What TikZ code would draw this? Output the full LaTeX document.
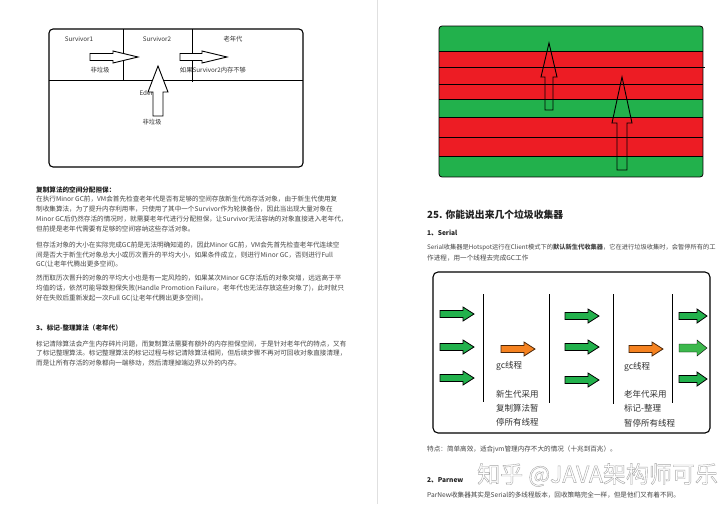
\documentclass[tikz,border=0pt]{standalone}
\usepackage{fontspec}
\setmainfont{Noto Sans CJK SC}
\definecolor{pgreen}{HTML}{22B14C}
\definecolor{pred}{HTML}{ED1C24}
\definecolor{porange}{HTML}{F58220}
\definecolor{lgreen}{HTML}{3CB84C}
\definecolor{bodytxt}{HTML}{454545}
\definecolor{headtxt}{HTML}{222222}
% right-pointing block arrow: style, x tail, y, x tip, shaft half, head half, head length
\newcommand{\rarrow}[7]{\draw[#1] (#2,#3-#5) -- (#4-#7,#3-#5) -- (#4-#7,#3-#6) -- (#4,#3) -- (#4-#7,#3+#6) -- (#4-#7,#3+#5) -- (#2,#3+#5) -- cycle;}
% up-pointing block arrow: style, x, y bottom, y tip, shaft half, head half, head length
\newcommand{\uarrow}[7]{\draw[#1] (#2-#5,#3) -- (#2-#5,#4+#7) -- (#2-#6,#4+#7) -- (#2,#4) -- (#2+#6,#4+#7) -- (#2+#5,#4+#7) -- (#2+#5,#3) -- cycle;}
\tikzset{
  txt/.style={anchor=west, inner sep=0pt, text=bodytxt, font=\fontsize{6.6}{7}\selectfont},
  stxt/.style={anchor=west, inner sep=0pt, text=bodytxt, font=\fontsize{6.25}{7}\selectfont},
  btxt/.style={anchor=west, inner sep=0pt, text=headtxt, font=\fontsize{6.6}{7}\selectfont\bfseries},
  lbl/.style={inner sep=0pt, text=black!80, font=\fontsize{6.3}{7}\selectfont},
  dlbl/.style={anchor=west, inner sep=0pt, text=black!80, font=\fontsize{8.5}{9}\selectfont},
  frame/.style={draw=black, line width=1.1pt, rounded corners=4pt},
  divline/.style={draw=black, line width=1pt},
  blockw/.style={draw=black, line width=0.9pt, fill=white},
  blocko/.style={draw=black, line width=0.9pt},
  garrow/.style={draw=black, line width=0.8pt, fill=pgreen},
  oarrow/.style={draw=black!70!porange, line width=0.8pt, fill=porange},
  larrow/.style={fill=lgreen},
  band/.style={draw=black, line width=0.8pt}
}
\begin{document}
\begin{tikzpicture}[x=1pt,y=-1pt]
\useasboundingbox (0,0) rectangle (720,504);
\fill[white] (0,0) rectangle (720,504);
\draw[black!12, line width=0.8pt] (377,0) -- (377,504);

% ---------------- left diagram ----------------
\draw[frame] (49,29) rectangle (303,167);
\draw[divline] (49,80) -- (303,80);
\draw[divline] (123,29) -- (123,80);
\draw[divline] (192,29) -- (192,82);
\node[lbl] (s1) at (79,39) {Survivor1};
\node[lbl] (s2) at (157,39) {Survivor2};
\node[lbl] (old) at (233,39) {老年代};
\node[lbl] (ng1) at (100,70) {非垃圾};
\node[lbl] (ifs) at (213,70) {如果Survivor2内存不够};
\node[lbl] (eden) at (147,93) {Eden};
\node[lbl] (ng2) at (152,122) {非垃圾};
\rarrow{blockw}{90}{57}{138}{3.5}{6}{25}
\rarrow{blockw}{180}{57}{227}{3.5}{6}{25}
\uarrow{blockw}{158}{116}{66}{5}{10}{26}

% ---------------- left text ----------------
\node[btxt] (t0) at (36,190) {复制算法的空间分配担保：};
\node[txt] (t1) at (36,199) {在执行Minor GC前，VM会首先检查老年代是否有足够的空间存放新生代尚存活对象，由于新生代使用复};
\node[txt] (t2) at (36,209) {制收集算法，为了提升内存利用率，只使用了其中一个Survivor作为轮换备份，因此当出现大量对象在};
\node[txt] (t3) at (36,219) {Minor GC后仍然存活的情况时，就需要老年代进行分配担保，让Survivor无法容纳的对象直接进入老年代，};
\node[txt] (t4) at (36,229) {但前提是老年代需要有足够的空间容纳这些存活对象。};
\node[txt] (t5) at (36,245) {但存活对象的大小在实际完成GC前是无法明确知道的，因此Minor GC前，VM会先首先检查老年代连续空};
\node[txt] (t6) at (36,255) {间是否大于新生代对象总大小或历次晋升的平均大小，如果条件成立，则进行Minor GC，否则进行Full};
\node[txt] (t7) at (36,264) {GC(让老年代腾出更多空间)。};
\node[txt] (t8) at (36,278) {然而取历次晋升的对象的平均大小也是有一定风险的，如果某次Minor GC存活后的对象突增，远远高于平};
\node[txt] (t9) at (36,288) {均值的话，依然可能导致担保失败(Handle Promotion Failure，老年代也无法存放这些对象了)，此时就只};
\node[txt] (t10) at (36,298) {好在失败后重新发起一次Full GC(让老年代腾出更多空间)。};
\node[btxt] (u0) at (36,328) {3、标记-整理算法（老年代）};
\node[txt] (u1) at (36,344) {标记清除算法会产生内存碎片问题，而复制算法需要有额外的内存担保空间，于是针对老年代的特点，又有};
\node[txt] (u2) at (36,353) {了标记整理算法。标记整理算法的标记过程与标记清除算法相同，但后续步骤不再对可回收对象直接清理，};
\node[txt] (u3) at (36,363) {而是让所有存活的对象都向一端移动，然后清理掉端边界以外的内存。};

% ---------------- right striped diagram ----------------
\begin{scope}
\clip[rounded corners=3pt] (439,26) rectangle (703,177);
\fill[pgreen] (439,26) rectangle (703,51);
\fill[pred] (439,51) rectangle (703,99);
\fill[pgreen] (439,99) rectangle (703,117);
\fill[pred] (439,117) rectangle (703,156);
\fill[pgreen] (439,156) rectangle (703,177);
\end{scope}
\draw[band] (439,51) -- (703,51);
\draw[band] (439,67) -- (705,67);
\draw[band] (439,84) -- (703,84);
\draw[band] (439,99) -- (703,99);
\draw[band] (439,117) -- (703,117);
\draw[band] (439,137) -- (703,137);
\draw[band] (439,156) -- (703,156);
\draw[band, rounded corners=3pt] (439,26) rectangle (703,177);
\uarrow{blocko}{549}{110}{43}{4}{8}{34}
\uarrow{blocko}{622}{170}{77}{5}{10}{46}

% ---------------- right text ----------------
\node[anchor=west, inner sep=0pt, text=headtxt, font=\fontsize{9.8}{10}\selectfont\bfseries] (h25) at (427,215) {25. 你能说出来几个垃圾收集器};
\node[btxt] (h1) at (427,233) {1、Serial};
\node[stxt] (r1) at (427,248) {Serial收集器是Hotspot运行在Client模式下的\textbf{默认新生代收集器}，它在进行垃圾收集时，会暂停所有的工};
\node[txt] (r2) at (427,258) {作进程，用一个线程去完成GC工作};

% ---------------- serial diagram ----------------
\draw[frame, rounded corners=5pt] (433,272) rectangle (710,433);
\draw[divline] (483,294) -- (483,402);
\draw[divline] (549,294) -- (549,403);
\draw[divline] (613,294) -- (613,404);
\draw[divline] (672,294) -- (672,403);
\rarrow{garrow}{440}{314}{474}{3.5}{7}{11}
\rarrow{garrow}{440}{347}{474}{3.5}{7}{11}
\rarrow{garrow}{440}{378}{474}{3.5}{7}{11}
\rarrow{garrow}{565}{316}{599}{3.5}{7}{11}
\rarrow{garrow}{565}{347}{599}{3.5}{7}{11}
\rarrow{garrow}{565}{380}{599}{3.5}{7}{11}
\rarrow{garrow}{679}{316}{707}{3.5}{7}{10}
\rarrow{larrow}{679}{348}{707}{4}{8}{10}
\rarrow{garrow}{679}{379}{707}{3.5}{7}{10}
\rarrow{oarrow}{501}{349}{535}{3.5}{7}{11}
\rarrow{oarrow}{629}{349}{663}{3.5}{7}{11}
\node[dlbl] (g1) at (496,366) {gc线程};
\node[dlbl] (g1a) at (496,394) {新生代采用};
\node[dlbl] (g1b) at (496,408) {复制算法暂};
\node[dlbl] (g1c) at (496,422) {停所有线程};
\node[dlbl] (g2) at (624,367) {gc线程};
\node[dlbl] (g2a) at (624,394) {老年代采用};
\node[dlbl] (g2b) at (624,408) {标记-整理};
\node[dlbl] (g2c) at (624,423) {暂停所有线程};

% ---------------- bottom right text ----------------
\node[txt] (f1) at (427,449) {特点：简单高效，适合jvm管理内存不大的情况（十兆到百兆）。};
\node[btxt] (h2) at (427,480) {2、Parnew};
\node[txt] (f2) at (427,495) {ParNew收集器其实是Serial的多线程版本，回收策略完全一样，但是他们又有着不同。};
\node[anchor=west, inner sep=0pt, text=black!35, font=\fontsize{23}{24}\selectfont] (wm) at (477,475) {\special{pdf:literal direct 1 Tr 0.4 w}知乎 @JAVA架构师可乐\special{pdf:literal direct 0 Tr}};
\end{tikzpicture}
\end{document}
